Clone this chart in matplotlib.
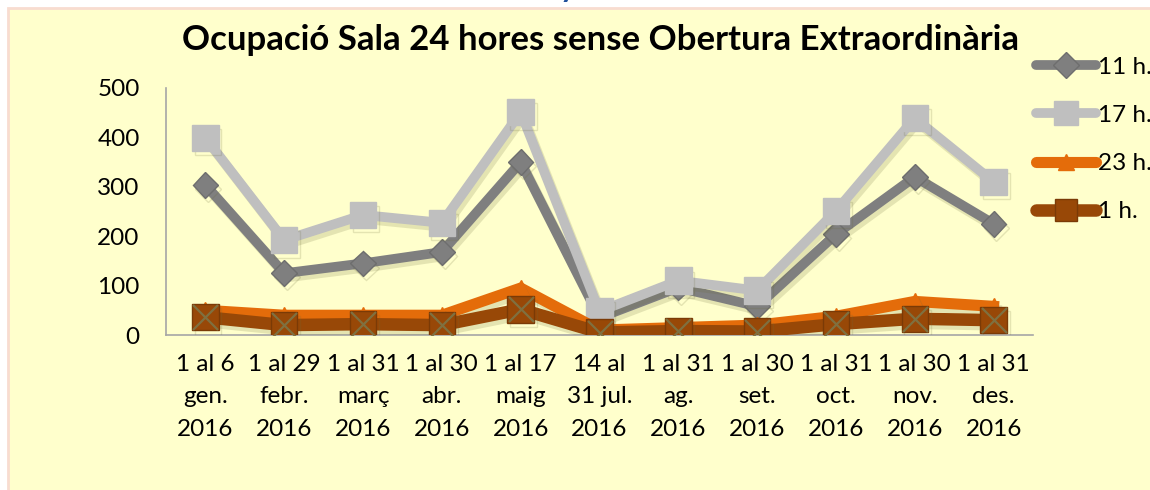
import matplotlib
matplotlib.use('Agg')
import matplotlib.pyplot as plt
import matplotlib.patheffects as pe
from matplotlib.patches import Rectangle
from matplotlib.lines import Line2D

# dades llegides del gràfic
periodes = ['1 al 6\ngen.\n2016', '1 al 29\nfebr.\n2016', '1 al 31\nmarç\n2016',
            '1 al 30\nabr.\n2016', '1 al 17\nmaig\n2016', '14 al\n31 jul.\n2016',
            '1 al 31\nag.\n2016', '1 al 30\nset.\n2016', '1 al 31\noct.\n2016',
            '1 al 30\nnov.\n2016', '1 al 31\ndes.\n2016']
h11 = [304, 125, 145, 168, 350, 35, 96, 58, 204, 320, 225]
h17 = [399, 192, 243, 227, 451, 48, 110, 90, 251, 439, 310]
h23 = [50, 40, 40, 40, 95, 10, 15, 20, 38, 68, 58]
h01 = [36, 20, 22, 20, 52, 5, 8, 7, 22, 33, 30]
y_ticks = [0, 100, 200, 300, 400, 500]

plt.rcParams['font.family'] = ['Lato', 'DejaVu Sans']
fs = 17.5

fig = plt.figure(figsize=(11.5, 4.9), dpi=100, facecolor='white')
fig.patches.append(Rectangle((8 / 1150, -0.01), 1.0, (490 - 8) / 490 + 0.01, transform=fig.transFigure,
                             facecolor='#FFFFCC', edgecolor='#F8DCD0', lw=2, zorder=-5))
fig.text(568 / 1150, 1 + 3 / 490, 'y', color='#1F4E9A', fontsize=22, fontweight='bold',
         ha='center', va='baseline')

ax = fig.add_axes([166 / 1150, (490 - 335) / 490, (1033 - 166) / 1150, (335 - 88) / 490])
ax.set_facecolor('none')

x = list(range(len(periodes)))
shadow = [pe.SimpleLineShadow(offset=(2, -3), shadow_color='#6B6B3A', alpha=0.18), pe.Normal()]

ax.plot(x, h11, color='#7F7F7F', lw=7, marker='D', ms=13, mfc='#7F7F7F', mec='#6E6E6E',
        solid_joinstyle='miter', path_effects=shadow, zorder=3)
ax.plot(x, h17, color='#BFBFBF', lw=7, marker='s', ms=19, mfc='#BFBFBF', mec='#BFBFBF',
        solid_joinstyle='miter', path_effects=shadow, zorder=4)
ax.plot(x, h23, color='#E46C0A', lw=8, marker='^', ms=12, mfc='#E46C0A', mec='#E46C0A',
        path_effects=shadow, zorder=5)
ax.plot(x, h01, color='#984807', lw=9, marker='s', ms=19, mfc='#984807', mec='#7A3A06',
        path_effects=shadow, zorder=6)
ax.plot(x, h01, ls='none', marker='x', ms=18, mec='#7F7040', mew=1.6, zorder=7)

ax.set_xlim(-0.5, len(periodes) - 0.5)
ax.set_ylim(0, 500)
ax.set_yticks(y_ticks)
ax.set_xticks(x)
ax.set_xticklabels(periodes, fontsize=fs)
for lbl in ax.get_xticklabels():
    lbl.set_linespacing(1.65)
ax.tick_params(axis='y', length=0, pad=19, labelsize=fs)
ax.tick_params(axis='x', length=0, pad=14)
for s in ['top', 'right']:
    ax.spines[s].set_visible(False)
ax.spines['left'].set_color('#A6A6A6')
ax.spines['bottom'].set_color('#A6A6A6')
ax.spines['left'].set_linewidth(1.2)
ax.spines['bottom'].set_linewidth(1.2)

fig.text(600 / 1150, 1 - 40 / 490, 'Ocupació Sala 24 hores sense Obertura Extraordinària',
         fontsize=25, fontweight='bold', ha='center', va='center')

handles = [
    Line2D([], [], color='#7F7F7F', lw=7, marker='D', ms=13, mfc='#7F7F7F', mec='#6E6E6E', solid_capstyle='round'),
    Line2D([], [], color='#BFBFBF', lw=7, marker='s', ms=17, mfc='#BFBFBF', mec='#BFBFBF', solid_capstyle='round'),
    Line2D([], [], color='#E46C0A', lw=8, marker='^', ms=12, mfc='#E46C0A', mec='#E46C0A', solid_capstyle='round'),
    Line2D([], [], color='#984807', lw=9, marker='s', ms=16, mfc='#984807', mec='#7A3A06', solid_capstyle='round'),
]
fig.legend(handles, ['11 h.', '17 h.', '23 h.', '1 h.'], loc='upper left',
           bbox_to_anchor=(1026 / 1150, 1 - 47 / 490), frameon=False, fontsize=fs,
           handlelength=2.5, handletextpad=0.05, labelspacing=1.12, borderaxespad=0)

fig.savefig('out.png', dpi=100, facecolor=fig.get_facecolor())
